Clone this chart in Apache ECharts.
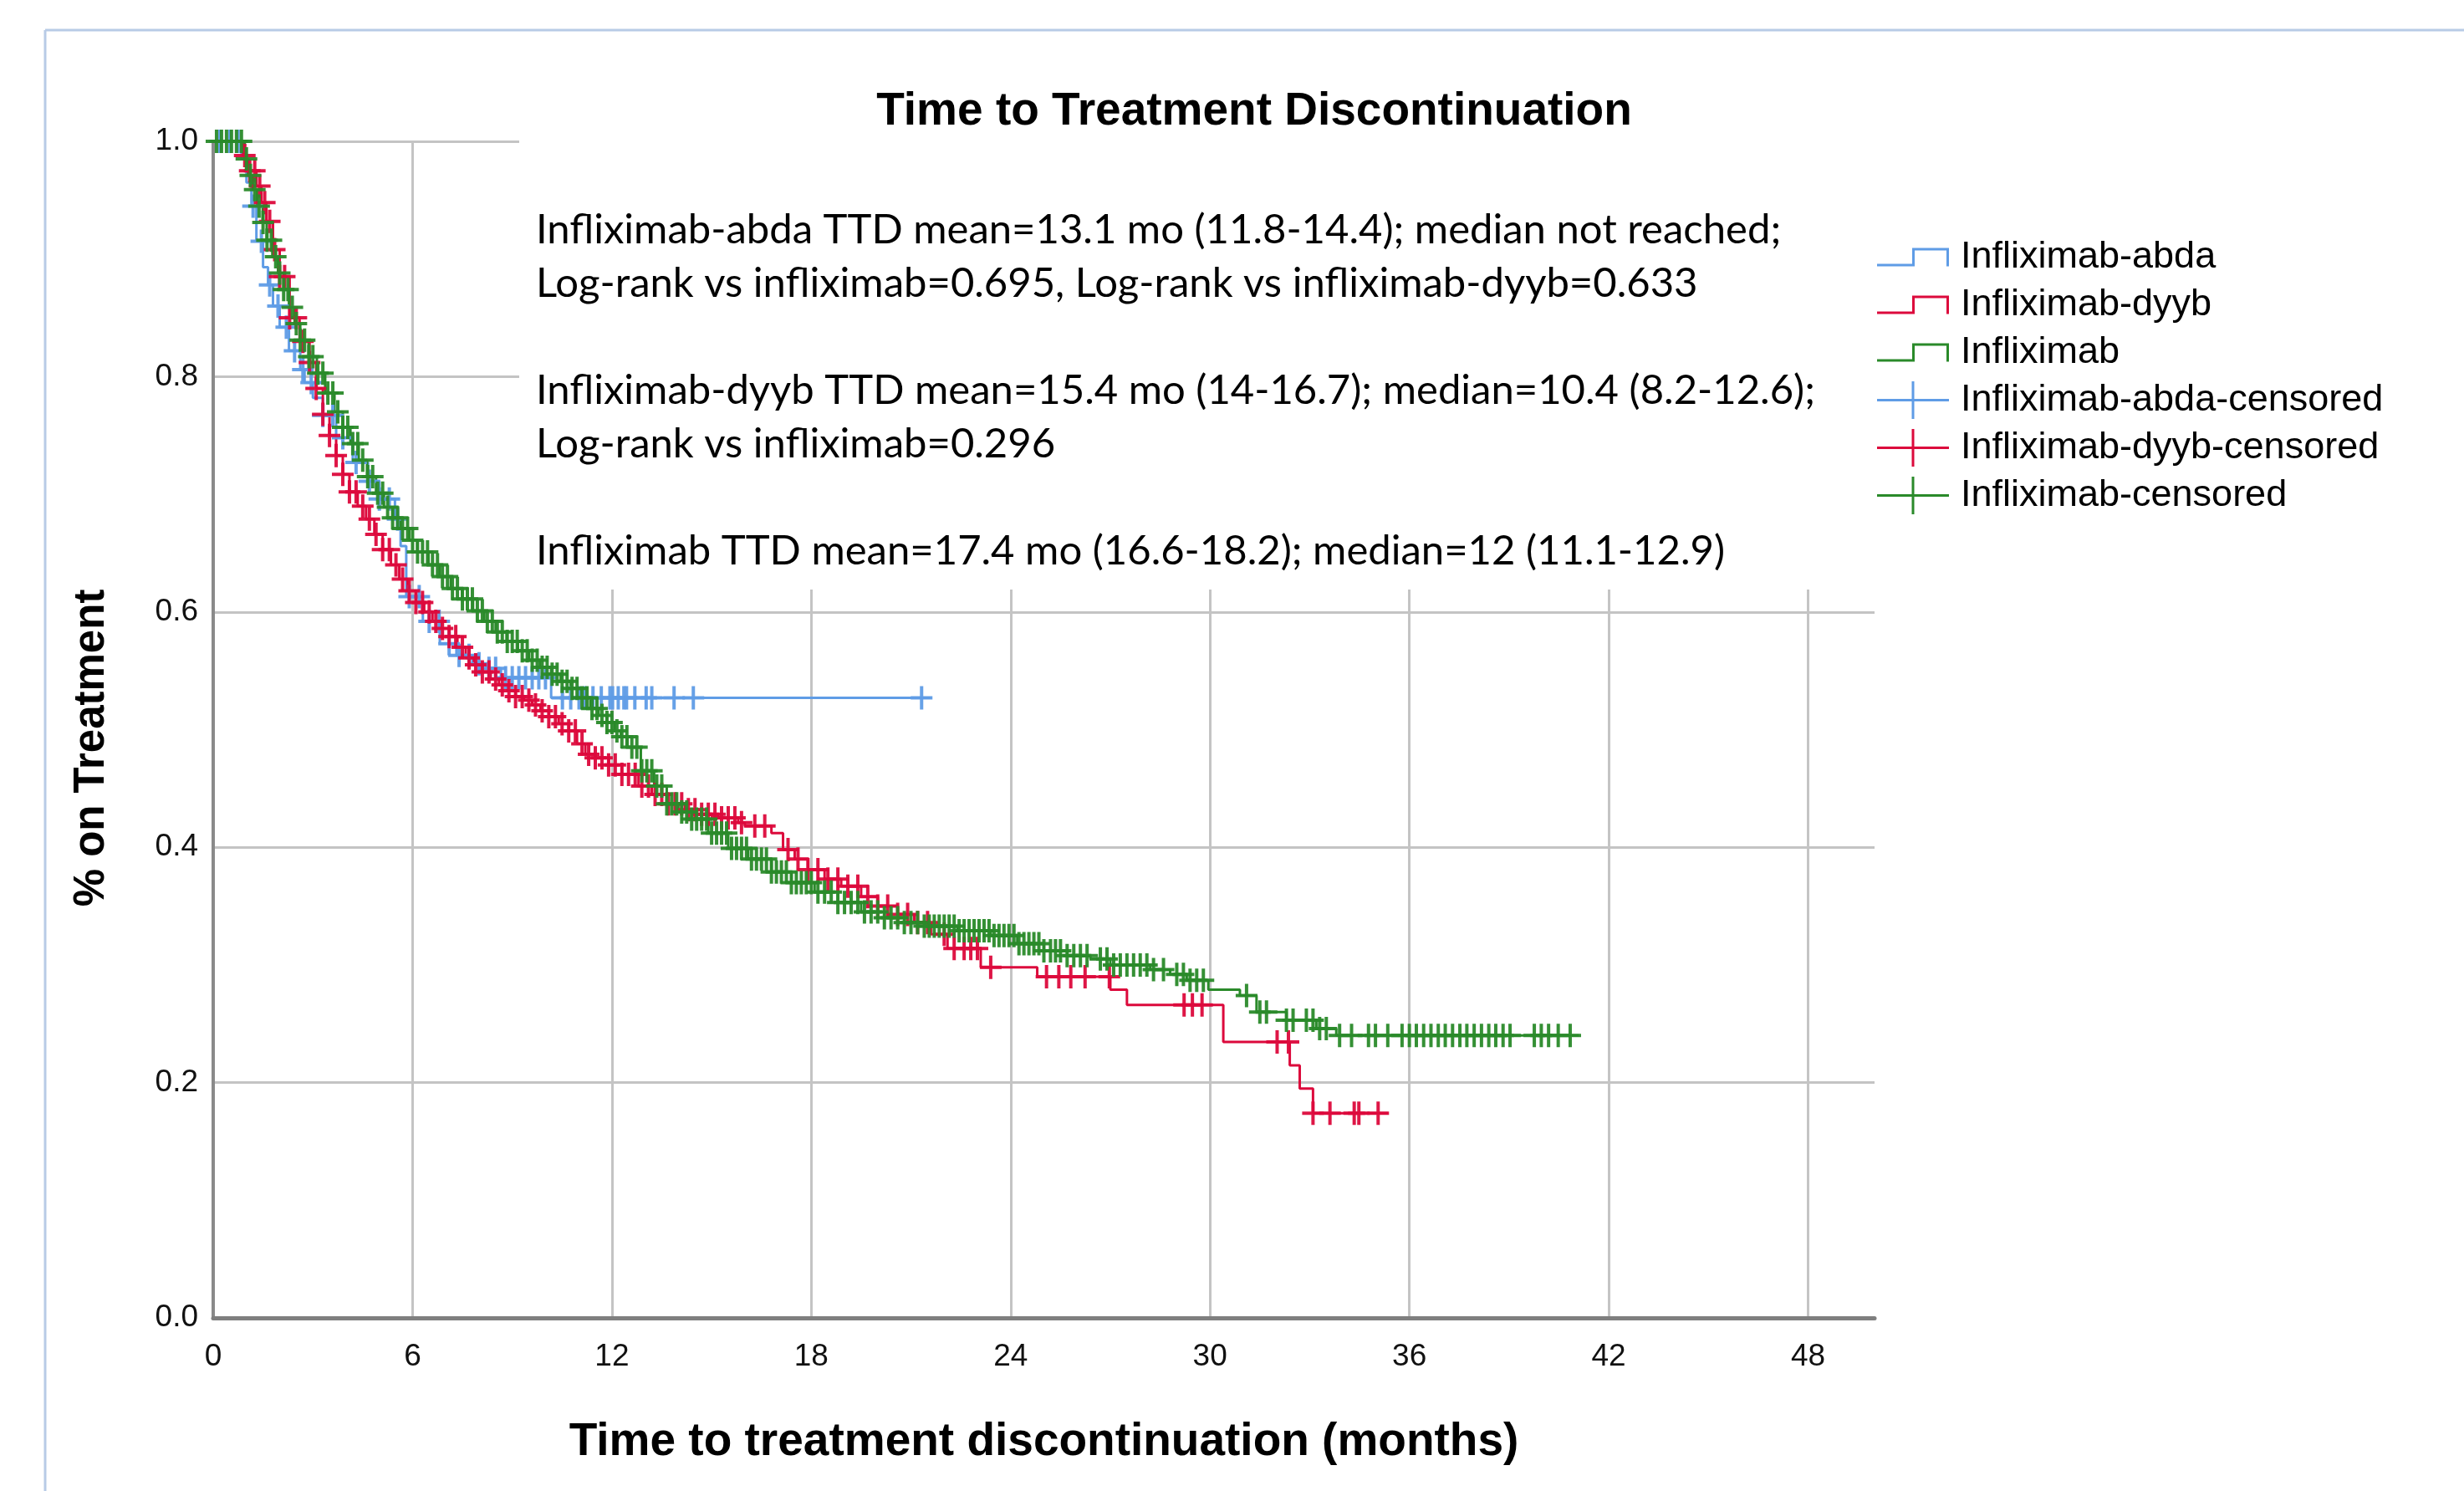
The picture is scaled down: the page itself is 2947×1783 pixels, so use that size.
<!DOCTYPE html>
<html>
<head>
<meta charset="utf-8">
<script src="https://cdn.jsdelivr.net/npm/echarts@6/dist/echarts.min.js"></script>
<style>html,body{margin:0;padding:0;background:#fff}#c{width:2947px;height:1783px}</style>
</head>
<body>
<div id="c"></div>
<script>
// ---------- data ----------
const chartTitle = 'Time to Treatment Discontinuation';
const xAxisTitle = 'Time to treatment discontinuation (months)';
const yAxisTitle = '% on Treatment';
const xTickInterval = 6;      // ticks 0,6,...,48
const yTickInterval = 0.2;    // ticks 0.0 ... 1.0
const seriesNames = ['Infliximab-abda', 'Infliximab-dyyb', 'Infliximab',
  'Infliximab-abda-censored', 'Infliximab-dyyb-censored', 'Infliximab-censored'];
const noteLines = [
  'Infliximab-abda TTD mean=13.1 mo (11.8-14.4); median not reached;',
  'Log-rank vs infliximab=0.695, Log-rank vs infliximab-dyyb=0.633',
  '',
  'Infliximab-dyyb TTD mean=15.4 mo (14-16.7); median=10.4 (8.2-12.6);',
  'Log-rank vs infliximab=0.296',
  '',
  'Infliximab TTD mean=17.4 mo (16.6-18.2); median=12 (11.1-12.9)'
];

// Kaplan-Meier curves: [month, proportion on treatment]
const abdaCurve = [[0,1.0],[0.85,0.985],[1.0,0.965],[1.15,0.945],[1.3,0.915],[1.5,0.893],[1.65,0.878],[1.8,0.86],
  [2.0,0.842],[2.28,0.822],[2.62,0.806],[2.75,0.795],[3.0,0.782],[3.3,0.767],[3.7,0.748],[4.2,0.727],[4.66,0.711],
  [5.0,0.696],[5.47,0.679],[5.64,0.656],[5.81,0.613],[6.31,0.592],[6.82,0.573],[7.32,0.563],[7.8,0.556],
  [8.24,0.552],[8.66,0.544],[10.17,0.527],[21.6,0.527]];
const dyybCurve = [[0,1.0],[0.9,0.988],[1.0,0.975],[1.3,0.962],[1.45,0.948],[1.6,0.932],[1.8,0.908],[2.0,0.885],
  [2.3,0.85],[2.6,0.83],[2.9,0.812],[3.1,0.79],[3.3,0.768],[3.5,0.75],[3.7,0.733],[3.9,0.717],[4.1,0.702],
  [4.35,0.69],[4.6,0.679],[4.85,0.666],[5.1,0.653],[5.35,0.64],[5.6,0.628],[5.85,0.618],[6.1,0.608],[6.35,0.6],
  [6.6,0.592],[6.85,0.586],[7.1,0.579],[7.35,0.57],[7.6,0.561],[7.85,0.555],[8.1,0.549],[8.35,0.543],[8.6,0.538],
  [8.85,0.533],[9.1,0.528],[9.35,0.525],[9.6,0.521],[9.85,0.516],[10.1,0.511],[10.4,0.505],[10.7,0.499],
  [10.95,0.488],[11.2,0.479],[11.5,0.476],[11.9,0.47],[12.3,0.462],[12.8,0.452],[13.2,0.445],[13.65,0.437],
  [14.2,0.432],[14.7,0.428],[15.2,0.425],[15.8,0.421],[16.0,0.418],[16.8,0.412],[17.15,0.398],[17.5,0.39],
  [17.9,0.381],[18.4,0.373],[18.9,0.367],[19.5,0.358],[20.0,0.35],[20.6,0.343],[21.1,0.336],[21.6,0.326],
  [22.1,0.314],[23.1,0.298],[24.8,0.29],[27.0,0.279],[27.5,0.266],[30.4,0.2345],[32.4,0.2146],[32.7,0.195],
  [33.1,0.174],[35.35,0.174]];
const inflxCurve = [[0,1.0],[0.95,0.985],[1.05,0.971],[1.19,0.959],[1.32,0.945],[1.49,0.931],[1.61,0.916],
  [1.78,0.902],[1.95,0.888],[2.12,0.874],[2.28,0.859],[2.45,0.845],[2.62,0.831],[2.87,0.817],[3.12,0.803],
  [3.37,0.786],[3.65,0.77],[3.9,0.757],[4.13,0.743],[4.38,0.729],[4.63,0.715],[4.9,0.701],[5.14,0.689],
  [5.4,0.68],[5.64,0.671],[5.9,0.661],[6.14,0.651],[6.48,0.64],[6.82,0.63],[7.15,0.62],[7.49,0.611],[7.82,0.601],
  [8.16,0.592],[8.5,0.583],[8.83,0.575],[9.17,0.567],[9.5,0.559],[9.83,0.553],[10.17,0.547],[10.46,0.541],
  [10.76,0.535],[11.05,0.527],[11.35,0.518],[11.6,0.512],[11.85,0.506],[12.08,0.499],[12.27,0.494],[12.47,0.485],
  [12.87,0.465],[13.27,0.452],[13.65,0.437],[14.0,0.43],[14.39,0.424],[14.9,0.412],[15.5,0.399],[16.1,0.39],
  [16.8,0.379],[17.4,0.37],[18.1,0.362],[18.8,0.353],[19.5,0.345],[20.2,0.34],[20.8,0.336],[21.4,0.333],
  [22.4,0.329],[23.4,0.325],[24.2,0.318],[25.0,0.312],[25.7,0.308],[26.4,0.305],[27.0,0.3],[28.2,0.296],
  [28.8,0.292],[29.3,0.287],[29.95,0.279],[30.9,0.274],[31.4,0.26],[32.3,0.253],[33.2,0.246],[33.8,0.24],[41.1,0.24]];

// censoring times (months)
const abdaCensor = [0.2,0.5,0.75,1.2,1.45,1.7,1.95,2.2,2.45,2.7,2.95,3.3,3.6,3.9,4.3,4.7,5.0,5.3,5.55,5.9,6.2,
  6.5,6.8,7.1,7.4,7.7,8.0,8.3,8.5,8.8,9.0,9.2,9.4,9.6,9.8,10.0,10.51,10.76,11.01,11.18,11.43,11.68,11.94,12.02,
  12.19,12.36,12.44,12.69,13.03,13.2,13.87,14.45,21.32];
const dyybCensor = [0.95,1.1,1.25,1.4,1.55,1.7,1.85,2.0,2.15,2.3,2.5,2.7,2.9,3.1,3.3,3.5,3.7,3.9,4.1,4.3,4.5,
  4.7,4.9,5.1,5.3,5.5,5.7,5.9,6.1,6.3,6.5,6.7,6.9,7.1,7.3,7.5,7.7,7.9,8.1,8.3,8.5,8.7,8.9,9.1,9.3,9.5,9.7,9.9,
  10.1,10.3,10.5,10.7,10.9,11.1,11.3,11.5,11.7,11.9,12.1,12.3,12.5,12.7,12.9,13.1,13.3,13.5,13.7,13.9,14.1,14.3,
  14.5,14.7,14.9,15.1,15.3,15.5,15.7,15.9,16.3,16.6,17.3,17.6,17.9,18.2,18.5,18.8,19.1,19.4,19.7,20.0,20.3,20.6,
  20.9,21.2,21.5,22.0,22.3,22.6,22.8,23.0,23.4,25.08,25.45,25.81,26.24,26.97,29.22,29.47,29.76,32.02,32.36,33.1,
  33.61,34.34,34.48,35.06];
const inflxCensor = [0.1,0.25,0.4,0.55,0.7,0.85,1.0,1.12,1.25,1.38,1.5,1.62,1.75,1.88,2.0,2.12,2.25,2.38,2.5,2.62,
  2.75,2.88,3.0,3.15,3.3,3.45,3.6,3.75,3.9,4.05,4.2,4.35,4.5,4.65,4.8,4.95,5.1,5.25,5.4,5.55,5.7,5.85,6.0,6.15,
  6.3,6.45,6.6,6.75,6.9,7.05,7.2,7.35,7.5,7.65,7.8,7.95,8.1,8.25,8.4,8.55,8.7,8.85,9.0,9.15,9.3,9.45,9.6,9.75,
  9.9,10.05,10.2,10.35,10.5,10.65,10.8,10.95,11.1,11.25,11.4,11.55,11.7,11.85,12.0,12.15,12.3,12.45,12.6,12.75,
  12.9,13.05,13.2,13.35,13.5,13.65,13.8,13.95,14.1,14.25,14.4,14.55,14.7,14.85,15.0,15.15,15.3,15.45,15.6,15.75,
  15.9,16.05,16.2,16.35,16.5,16.65,16.8,16.95,17.1,17.25,17.4,17.55,17.7,17.85,18.0,18.2,18.4,18.6,18.8,19.0,
  19.2,19.4,19.6,19.8,20.0,20.2,20.4,20.6,20.8,21.0,21.2,21.4,21.55,21.7,21.85,22.0,22.15,22.3,22.45,22.6,22.75,
  22.9,23.05,23.2,23.35,23.5,23.65,23.8,23.95,24.1,24.25,24.4,24.55,24.7,24.85,25.0,25.2,25.35,25.5,25.7,25.9,
  26.1,26.3,26.7,26.9,27.1,27.3,27.5,27.7,27.9,28.1,28.3,28.6,29.0,29.2,29.4,29.6,29.8,31.1,31.5,31.7,32.3,32.5,
  32.9,33.1,33.3,33.5,33.9,34.26,34.77,34.98,35.35,35.78,36.0,36.21,36.43,36.65,36.87,37.08,37.3,37.52,37.73,
  37.95,38.17,38.39,38.6,38.82,39.03,39.76,39.97,40.19,40.48,40.84];

const colors = ['#5f9ce6', '#dc0a3c', '#2a8a2a'];

// ---------- helpers ----------
function kmAt(curve, t) {
  let v = curve[0][1];
  for (const p of curve) { if (p[0] <= t) v = p[1]; else break; }
  return v;
}
const censorPts = (curve, times) => times.map(t => [t, kmAt(curve, t)]);

const plusSymbol = 'path://M11,0 L15,0 L15,12 L26,12 L26,16 L15,16 L15,28 L11,28 L11,16 L0,16 L0,12 L11,12 Z';
const stepIcon = 'path://M0,19 L42,19 L42,0 L86,0 L86,22 L83,22 L83,3 L45,3 L45,22 L0,22 Z';
const plusIcon = 'path://M0,21 L41.5,21 L41.5,0 L44.5,0 L44.5,21 L86,21 L86,24 L44.5,24 L44.5,45 L41.5,45 L41.5,24 L0,24 Z';

const curves = [abdaCurve, dyybCurve, inflxCurve];
const censors = [abdaCensor, dyybCensor, inflxCensor];

const series = [];
curves.forEach((c, i) => series.push({
  name: seriesNames[i], type: 'line', step: 'end', data: c,
  symbol: 'none', showSymbol: false, lineStyle: { width: 3, color: colors[i] },
  itemStyle: { color: colors[i] }, animation: false, z: 2
}));
censors.forEach((t, i) => series.push({
  name: seriesNames[i + 3], type: 'scatter', data: censorPts(curves[i], t),
  symbol: plusSymbol, symbolSize: [26, 28],
  itemStyle: { color: colors[i], opacity: 0.95 }, animation: false, z: 3
}));

const FONT = 'Liberation Sans';
const legendText = { fontFamily: FONT, fontSize: 45, color: '#000', padding: [0, 0, 0, 9] };

const chart = echarts.init(document.getElementById('c'), null, { renderer: 'canvas' });
chart.setOption({
  backgroundColor: '#fff',
  animation: false,
  title: {
    text: chartTitle, left: 1500, top: 106, textAlign: 'center', padding: 0,
    textStyle: { fontFamily: FONT, fontSize: 55, fontWeight: 'bold', color: '#000' }
  },
  legend: [
    {
      orient: 'vertical', left: 2245, top: 285, itemWidth: 86, itemHeight: 22, itemGap: 12, padding: 0,
      selectedMode: false, textStyle: legendText,
      data: seriesNames.slice(0, 3).map((n, i) => ({ name: n, icon: stepIcon, itemStyle: { color: colors[i] } }))
    },
    {
      orient: 'vertical', left: 2245, top: 456, itemWidth: 86, itemHeight: 45, itemGap: 12, padding: 0,
      selectedMode: false, textStyle: legendText,
      data: seriesNames.slice(3).map((n, i) => ({ name: n, icon: plusIcon, itemStyle: { color: colors[i], opacity: 1 } }))
    }
  ],
  grid: { left: 255, right: 705, top: 169, bottom: 207, containLabel: false },
  xAxis: {
    type: 'value', min: 0, max: 50, interval: xTickInterval,
    name: xAxisTitle, nameLocation: 'middle', nameGap: 121,
    nameTextStyle: { fontFamily: FONT, fontSize: 55, fontWeight: 'bold', color: '#000' },
    axisLine: { lineStyle: { color: '#7f7f7f', width: 5 } },
    axisTick: { show: false },
    axisLabel: { fontFamily: FONT, fontSize: 37, color: '#111', margin: 28, showMaxLabel: false },
    splitLine: { show: true, showMaxLine: false, lineStyle: { color: '#c4c4c4', width: 3 } }
  },
  yAxis: {
    type: 'value', min: 0, max: 1, interval: yTickInterval,
    name: yAxisTitle, nameLocation: 'middle', nameGap: 120,
    nameTextStyle: { fontFamily: FONT, fontSize: 51, fontWeight: 'bold', color: '#000', padding: [0, 44, 0, 0] },
    axisLine: { show: true, lineStyle: { color: '#8a8a8a', width: 4 } },
    axisTick: { show: false },
    axisLabel: { fontFamily: FONT, fontSize: 37, color: '#111', margin: 18, padding: [14, 0, 0, 0], formatter: v => v.toFixed(1) },
    splitLine: { show: true, lineStyle: { color: '#c4c4c4', width: 3 } }
  },
  graphic: [
    { type: 'line', z: 0, shape: { x1: 54, y1: 36, x2: 2947, y2: 36 }, style: { stroke: '#b8cbe6', lineWidth: 3 } },
    { type: 'line', z: 0, shape: { x1: 54, y1: 36, x2: 54, y2: 1783 }, style: { stroke: '#b8cbe6', lineWidth: 3 } },
    { type: 'rect', z: 1, shape: { x: 621, y: 150, width: 1640, height: 555 }, style: { fill: '#fff' } },
    {
      type: 'text', z: 10, left: 641, top: 243,
      style: { text: noteLines.join('\n'), fontFamily: 'Lato', fontSize: 49, lineHeight: 64, fill: '#000' }
    }
  ],
  series: series
});
</script>
</body>
</html>
